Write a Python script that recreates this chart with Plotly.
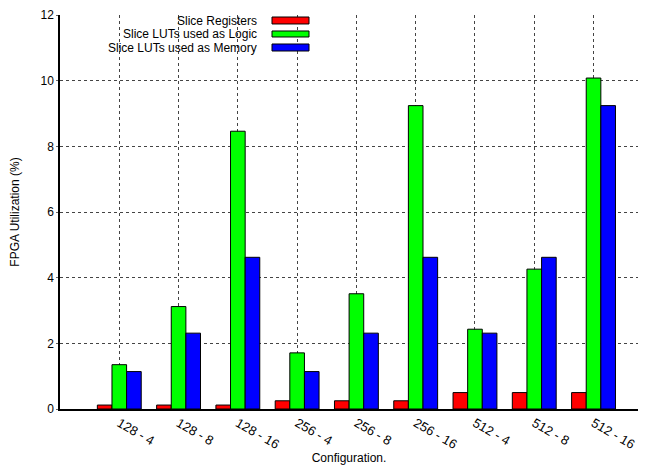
import plotly.graph_objects as go

categories = ["128 - 4", "128 - 8", "128 - 16", "256 - 4", "256 - 8", "256 - 16",
              "512 - 4", "512 - 8", "512 - 16"]
series_names = ["Slice Registers", "Slice LUTs used as Logic", "Slice LUTs used as Memory"]
slice_registers = [0.12, 0.12, 0.12, 0.25, 0.25, 0.25, 0.50, 0.50, 0.50]
luts_logic = [1.35, 3.12, 8.46, 1.71, 3.51, 9.24, 2.43, 4.26, 10.08]
luts_memory = [1.14, 2.31, 4.62, 1.14, 2.31, 4.62, 2.31, 4.62, 9.24]
y_ticks = [0, 2, 4, 6, 8, 10, 12]

colors = ["#ff0000", "#00ff00", "#0000ff"]
FONT = "Liberation Sans, Arial, Helvetica, sans-serif"
XRANGE = [-1.0, 8.75]

fig = go.Figure()
for name, vals, col in zip(series_names, [slice_registers, luts_logic, luts_memory], colors):
    fig.add_trace(go.Bar(
        x=list(range(len(categories))), y=vals, name=name,
        marker=dict(color=col, line=dict(color="#000000", width=1)),
        showlegend=False,
    ))

fig.update_layout(
    width=642, height=457,
    margin=dict(l=52, r=12, t=7, b=56),
    paper_bgcolor="white", plot_bgcolor="white",
    barmode="group", bargap=0.26, bargroupgap=0,
    font=dict(family=FONT, size=12, color="#000000"),
    xaxis=dict(
        tickmode="array", tickvals=list(range(len(categories))),
        ticktext=categories, tickangle=30, tickfont=dict(size=13),
        range=XRANGE, ticklabeloverflow="allow",
        showgrid=True, gridcolor="#444444", griddash="dot", gridwidth=1,
        showline=True, linecolor="#000000", linewidth=1.5,
        ticks="", automargin=False,
        title=dict(text="Configuration.", font=dict(size=12), standoff=39),
        zeroline=False,
    ),
    yaxis=dict(
        tickmode="array", tickvals=y_ticks, range=[0, 12],
        ticklabeloverflow="allow",
        showgrid=True, gridcolor="#444444", griddash="dot", gridwidth=1,
        showline=True, linecolor="#000000", linewidth=1.5,
        ticks="outside", ticklen=2, tickcolor="#666666",
        tickfont=dict(size=12), automargin=False,
        title=dict(text="FPGA Utilization (%)", font=dict(size=12), standoff=19),
        zeroline=False,
    ),
)

# custom legend: right-aligned text with swatch on the right (gnuplot style)
rows = [(0.9860, 0.9772, 0.9949), (0.9518, 0.9442, 0.9594), (0.9175, 0.9086, 0.9264)]
for name, col, (ty, y0, y1) in zip(series_names, colors, rows):
    fig.add_annotation(x=0.3426, y=ty, xref="paper", yref="paper", text=name,
                       showarrow=False, xanchor="right", yanchor="middle",
                       font=dict(size=12), borderpad=0)
    fig.add_shape(type="rect", xref="paper", yref="paper",
                  x0=0.3668, x1=0.4308, y0=y0, y1=y1,
                  fillcolor=col, line=dict(color="#000000", width=1))

fig.write_html("out.html")
